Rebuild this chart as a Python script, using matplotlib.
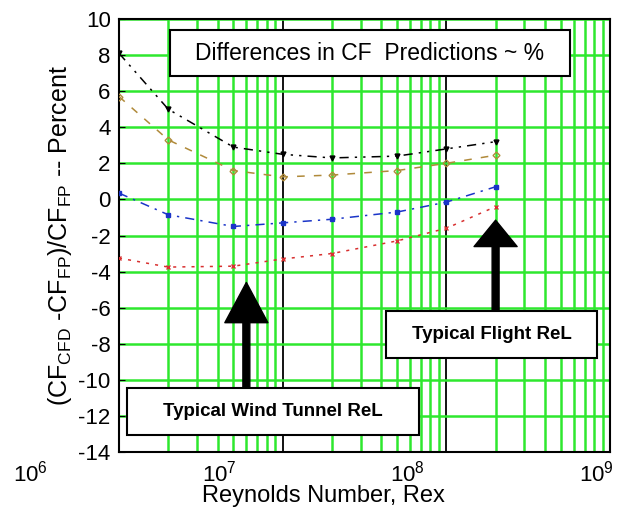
import numpy as np
import matplotlib
matplotlib.use("Agg")
import matplotlib.pyplot as plt
from matplotlib.patches import Rectangle
from matplotlib.ticker import LogLocator, NullFormatter, FixedLocator

plt.rcParams['font.family'] = ['Liberation Sans', 'DejaVu Sans']
plt.rcParams['mathtext.fontset'] = 'custom'
plt.rcParams['mathtext.rm'] = 'Liberation Sans'
plt.rcParams['mathtext.it'] = 'Liberation Sans'
plt.rcParams['axes.unicode_minus'] = False

# Reynolds numbers where the skin friction was compared
rex = [1e6, 2e6, 5e6, 1e7, 2e7, 5e7, 1e8, 2e8]

# percent difference of CFD skin friction from flat plate value
diff_black = [8.1, 5.0, 2.9, 2.5, 2.3, 2.4, 2.8, 3.2]
diff_olive = [5.7, 3.3, 1.6, 1.25, 1.35, 1.6, 2.0, 2.45]
diff_blue = [0.35, -0.85, -1.5, -1.3, -1.1, -0.7, -0.15, 0.7]
diff_red = [-3.25, -3.75, -3.7, -3.3, -3.0, -2.3, -1.6, -0.4]

# typical Reynolds numbers for the arrows
re_tunnel = 6e6
re_flight = 2e8

y_ticks = list(range(10, -16, -2))
x_label_ticks = [1e6, 1e7, 1e8, 1e9]

fig = plt.figure(figsize=(6.24, 5.14), dpi=100)
W, H = 624.0, 514.0
ax = fig.add_axes([119/W, 1-452/H, (610-119)/W, (452-19)/H])

ax.set_xscale('log')
ax.set_xlim(1e6, 1e9)
ax.set_ylim(-14, 10)

# grid: green minor lines, black decade lines
ax.xaxis.set_major_locator(FixedLocator([1e7, 1e8]))
ax.xaxis.set_minor_locator(LogLocator(base=10, subs=np.arange(2, 10)))
ax.xaxis.set_major_formatter(NullFormatter())
ax.xaxis.set_minor_formatter(NullFormatter())
ax.tick_params(axis='x', which='both', length=0)
ax.grid(True, which='minor', axis='x', color='#2ee82e', lw=1.8, zorder=0)
ax.grid(True, which='major', axis='x', color='black', lw=1.3, zorder=0)
ax.set_yticks(y_ticks)
ax.grid(True, which='major', axis='y', color='#2ee82e', lw=1.8, zorder=0)
ax.set_axisbelow(True)
ax.tick_params(axis='y', labelsize=16, length=4, direction='in', pad=6)

for sp in ax.spines.values():
    sp.set_linewidth(1.5)

# the four curves
ax.plot(rex, diff_black, color='black', lw=1.1, dashes=(6, 4, 1.5, 4, 1.5, 4),
        marker='v', ms=3.5, zorder=3)
ax.plot(rex, diff_olive, color='#b08a3a', lw=1.1, dashes=(5, 6),
        marker='D', ms=3.5, mfc='none', zorder=3)
ax.plot(rex, diff_blue, color='#1a34c8', lw=1.1, dashes=(6, 4, 1.5, 4),
        marker='s', ms=3.5, zorder=3)
ax.plot(rex, diff_red, color='#d83030', lw=1.1, dashes=(2, 4),
        marker='x', ms=3.5, zorder=3)

ax.set_ylabel(r'(CF$_{\rm CFD}$ -CF$_{\rm FP}$)/CF$_{\rm FP}$ -- Percent',
              fontsize=18, labelpad=3)

# boxed labels
def boxed(x0, y0, x1, y1, text, size, weight='normal'):
    ax.add_patch(Rectangle((x0, y0), x1-x0, y1-y0, transform=ax.transAxes,
                           facecolor='white', edgecolor='black', lw=1.5,
                           zorder=5, clip_on=False))
    ax.text((x0+x1)/2, (y0+y1)/2, text, transform=ax.transAxes,
            ha='center', va='center', fontsize=size, weight=weight, zorder=6)

boxed(0.104, 0.868, 0.9185, 0.9746, 'Differences in CF  Predictions ~ %', 16.5)
boxed(0.0163, 0.039, 0.611, 0.148, 'Typical Wind Tunnel ReL', 13.5, 'bold')
boxed(0.5438, 0.217, 0.9735, 0.3256, 'Typical Flight ReL', 13.5, 'bold')

# arrows pointing at the typical Reynolds numbers
ax.annotate('', xy=(re_tunnel, -4.6), xytext=(re_tunnel, -10.45),
            arrowprops=dict(facecolor='black', edgecolor='black', width=5,
                            headwidth=31, headlength=29, shrink=0),
            zorder=4)
ax.annotate('', xy=(re_flight, -1.15), xytext=(re_flight, -6.2),
            arrowprops=dict(facecolor='black', edgecolor='black', width=5,
                            headwidth=31, headlength=19, shrink=0),
            zorder=4)

# decade labels along the bottom
ax2 = fig.add_axes([30.6/W, 1-452/H, (596.4-30.6)/W, 0.001])
ax2.set_xscale('log')
ax2.set_xlim(1e6, 1e9)
ax2.set_xticks(x_label_ticks)
ax2.xaxis.set_minor_locator(FixedLocator([]))
ax2.set_yticks([])
ax2.tick_params(axis='x', length=0, labelsize=16, pad=6)
for sp in ax2.spines.values():
    sp.set_visible(False)
ax2.patch.set_visible(False)
ax2.set_xlabel('Reynolds Number, Rex', fontsize=17)
ax2.xaxis.set_label_coords(323/W, 1-485/H, transform=fig.transFigure)

fig.savefig('out.png', dpi=100)
